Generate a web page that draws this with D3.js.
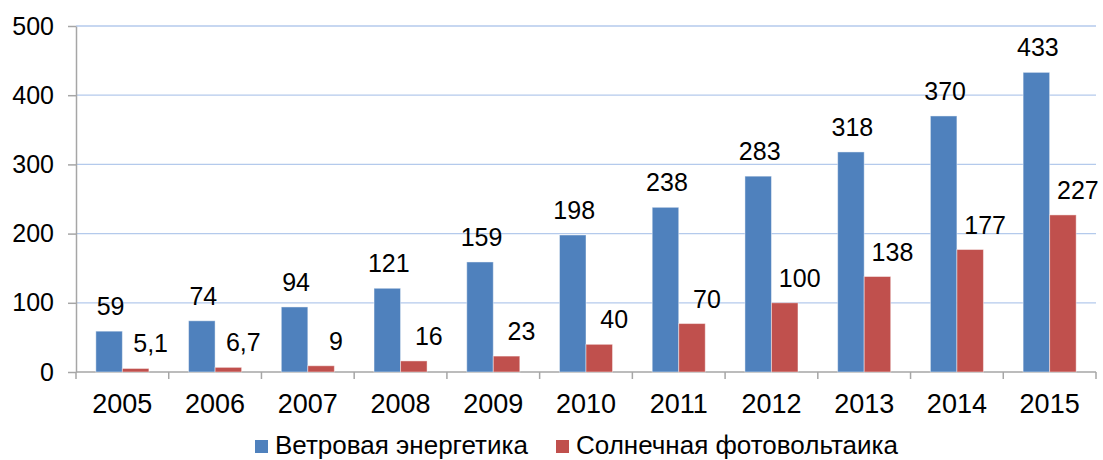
<!DOCTYPE html>
<html>
<head>
<meta charset="utf-8">
<script src="https://cdn.jsdelivr.net/npm/d3@7"></script>
<style>
  body { margin: 0; background: #fff; }
  text { font-family: "Liberation Sans", Arial, sans-serif; fill: #000; }
</style>
</head>
<body>
<script>
// chart data
const years = ["2005", "2006", "2007", "2008", "2009", "2010", "2011", "2012", "2013", "2014", "2015"];
const wind = [59, 74, 94, 121, 159, 198, 238, 283, 318, 370, 433];
const solar = [5.1, 6.7, 9, 16, 23, 40, 70, 100, 138, 177, 227];
const seriesNames = ["Ветровая энергетика", "Солнечная фотовольтаика"];
const yTicks = [0, 100, 200, 300, 400, 500];

const colors = ["#4f81bd", "#c0504d"];

let margin = null, width = null, height = null;
let svg = null;
let x0, x1, y = null;

const ru = d3.formatLocale({decimal: ",", thousands: " ", grouping: [3], currency: ["", ""]});
const fmt = ru.format("~g");

setupCanvasSize();
appendSvg("body");
setupScales();
appendGrid();
appendAxes();
appendBars();
appendLegend();

function setupCanvasSize() {
  margin = {top: 26, left: 76, bottom: 88, right: 7};
  width = 1103 - margin.left - margin.right;
  height = 460 - margin.top - margin.bottom;
}

function appendSvg(domElement) {
  svg = d3.select(domElement).append("svg")
    .attr("width", width + margin.left + margin.right)
    .attr("height", height + margin.top + margin.bottom)
    .append("g")
    .attr("transform", `translate(${margin.left}, ${margin.top})`);
}

function setupScales() {
  x0 = d3.scaleBand().domain(years).range([0, width]).padding(0);
  const bw = x0.bandwidth();
  x1 = d3.scaleBand().domain([0, 1]).range([bw * 0.214, bw * 0.786]);
  y = d3.scaleLinear().domain([0, 500]).range([height, 0]);
}

function appendGrid() {
  svg.append("g")
    .selectAll("line")
    .data(yTicks.filter(d => d > 0))
    .enter()
    .append("line")
    .attr("x1", 0)
    .attr("x2", width)
    .attr("y1", d => y(d))
    .attr("y2", d => y(d))
    .style("stroke", "#b4caec")
    .style("stroke-width", 1.3);
}

function appendAxes() {
  // y axis
  const ya = svg.append("g")
    .call(d3.axisLeft(y).tickValues(yTicks).tickSize(8).tickSizeOuter(0).tickPadding(14));
  ya.select(".domain").style("stroke", "#a6a6a6").style("stroke-width", 1.5);
  ya.selectAll(".tick line").style("stroke", "#a6a6a6").style("stroke-width", 1.5);
  ya.selectAll(".tick text")
    .style("font-size", "25px")
    .style("font-family", "Liberation Sans, Arial, sans-serif")
    .attr("fill", "#000");

  // x axis with ticks at category boundaries
  const xa = svg.append("g").attr("transform", `translate(0, ${height})`);
  xa.append("line")
    .attr("x1", 0).attr("x2", width)
    .style("stroke", "#a6a6a6").style("stroke-width", 1.5);
  xa.selectAll(".xtick")
    .data(years.concat(["end"]))
    .enter()
    .append("line")
    .attr("class", "xtick")
    .attr("x1", (d, i) => i < years.length ? x0(d) : width)
    .attr("x2", (d, i) => i < years.length ? x0(d) : width)
    .attr("y1", 0).attr("y2", 7)
    .style("stroke", "#a6a6a6").style("stroke-width", 1.5);
  xa.selectAll(".xlabel")
    .data(years)
    .enter()
    .append("text")
    .attr("class", "xlabel")
    .attr("x", d => x0(d) + x0.bandwidth() / 2)
    .attr("y", 41)
    .style("text-anchor", "middle")
    .style("font-size", "27px")
    .text(d => d);
}

function appendBars() {
  const rows = years.map((yr, i) => ({year: yr, vals: [wind[i], solar[i]]}));

  const groups = svg.selectAll(".grp")
    .data(rows)
    .enter()
    .append("g")
    .attr("class", "grp")
    .attr("transform", d => `translate(${x0(d.year)}, 0)`);

  groups.selectAll("rect")
    .data(d => d.vals.map((v, k) => ({k: k, v: v})))
    .enter()
    .append("rect")
    .attr("x", d => x1(d.k))
    .attr("y", d => y(d.v))
    .attr("width", x1.bandwidth())
    .attr("height", d => height - y(d.v))
    .style("fill", d => colors[d.k])
    .style("stroke", "rgba(255,255,255,0.45)")
    .style("stroke-width", 1);

  groups.selectAll("text")
    .data(d => d.vals.map((v, k) => ({k: k, v: v})))
    .enter()
    .append("text")
    .attr("x", d => x1(d.k) + x1.bandwidth() / 2 + (d.k === 1 ? 15 : 1.5))
    .attr("y", d => y(d.v) - 16)
    .style("text-anchor", "middle")
    .style("font-size", "25px")
    .text(d => fmt(d.v));
}

function appendLegend() {
  const legend = svg.append("g")
    .attr("class", "legend")
    .attr("transform", `translate(${-margin.left}, ${-margin.top})`);
  const xs = [255, 556];

  legend.selectAll("rect")
    .data(seriesNames)
    .enter()
    .append("rect")
    .attr("x", (d, i) => xs[i])
    .attr("y", 440)
    .attr("width", 13)
    .attr("height", 13)
    .style("fill", (d, i) => colors[i]);

  legend.selectAll("text")
    .data(seriesNames)
    .enter()
    .append("text")
    .attr("x", (d, i) => xs[i] + 20)
    .attr("y", 454)
    .style("font-size", "26px")
    .text(d => d);
}
</script>
</body>
</html>
